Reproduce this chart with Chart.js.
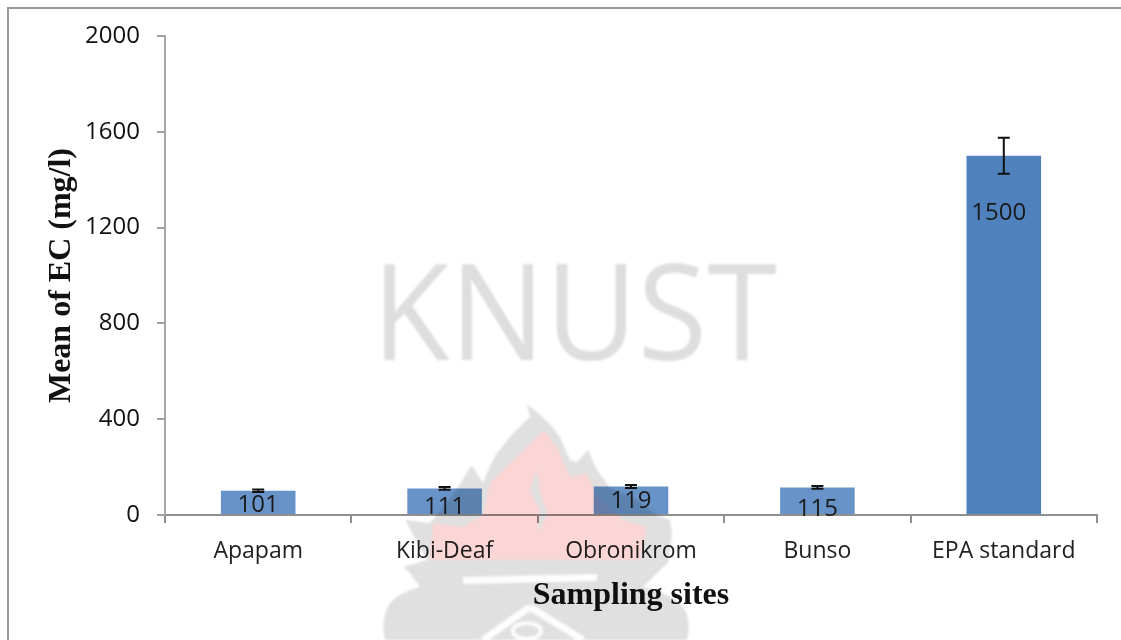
<!DOCTYPE html>
<html>
<head>
<meta charset="utf-8">
<script src="https://cdn.jsdelivr.net/npm/chart.js@4"></script>
<style>
html,body{margin:0;padding:0;background:#fff;width:1121px;height:640px;overflow:hidden}
#wrap{position:relative;width:1121px;height:640px}
#frame{position:absolute;left:7px;top:7px;right:-4px;bottom:-4px;border-left:2px solid #9a9a9a;border-top:2px solid #9a9a9a}
canvas{position:absolute;left:0;top:0}
#mark{position:absolute;left:0;top:0;mix-blend-mode:multiply;pointer-events:none;filter:blur(.8px)}
</style>
</head>
<body>
<div id="wrap">
<div id="frame"></div>
<canvas id="c" width="1121" height="640"></canvas>
<svg id="mark" width="1121" height="640" viewBox="0 0 1121 640">
<text x="372" y="360" font-family="Open Sans" font-weight="400" font-size="133" fill="#dedede" textLength="405" lengthAdjust="spacingAndGlyphs">KNUST</text>
<path fill="#e0e0e0" d="M527 405Q545 416 560 437L570 460L577 462L588 450L597 470L610 488L633 497L657 515L670 520L672 533L668 563L660 570L643 587Q675 595 683 607Q692 620 687 640L385 640Q380 620 390 603Q400 592 420 587L410 573L403 567L427 560L405 520L430 523Q455 495 470 467L473 467L483 483Q490 465 497 453Q515 430 530 417Z"/>
<path fill="#fbd6d6" d="M545 430L560 453L570 477L587 473L597 497L623 520L647 527L640 560L430 560L433 523L463 527L483 515L490 483L510 463L537 437Z"/>
<path fill="#e0e0e0" d="M537 470L530 490L540 510L538 533L547 513L540 493Z"/>
<path fill="#fdfdfd" d="M463 577L597 574L597 581L463 584Z"/>
<path fill="none" stroke="#fdfdfd" stroke-width="7" d="M530 607L583 640M530 607L483 640"/>
<ellipse cx="527" cy="631" rx="14" ry="8" fill="none" stroke="#fdfdfd" stroke-width="4"/>
</svg>
</div>
<script>
const categories = ["Apapam", "Kibi-Deaf", "Obronikrom", "Bunso", "EPA standard"];
const meanEC = [101, 111, 119, 115, 1500];
const errorAmount = [5, 5.5, 6, 5.7, 75];
const yTicks = [0, 400, 800, 1200, 1600, 2000];
const barColors = ["#6893c8", "#6893c8", "#6893c8", "#6893c8", "#4f81bd"];
const labelOffsetY = [14, 19, 15, 22, 57];
const labelOffsetX = [0, 0, 0, 0, -5];

const labelFont = '24px "Open Sans"';
const tickColor = "#8f8f8f";

const errorBars = {
  id: "errorBars",
  afterDatasetsDraw(chart) {
    const y = chart.scales.y, ctx = chart.ctx;
    const meta = chart.getDatasetMeta(0);
    ctx.save();
    ctx.strokeStyle = "#111";
    ctx.lineWidth = 2;
    meta.data.forEach((bar, i) => {
      const top = y.getPixelForValue(meanEC[i] + errorAmount[i]);
      const bot = y.getPixelForValue(meanEC[i] - errorAmount[i]);
      ctx.beginPath();
      ctx.moveTo(bar.x, top); ctx.lineTo(bar.x, bot);
      ctx.moveTo(bar.x - 6, top); ctx.lineTo(bar.x + 6, top);
      ctx.moveTo(bar.x - 6, bot); ctx.lineTo(bar.x + 6, bot);
      ctx.stroke();
    });
    ctx.fillStyle = "#1a1a1a";
    ctx.font = labelFont;
    ctx.textAlign = "center";
    ctx.textBaseline = "middle";
    meta.data.forEach((bar, i) => {
      ctx.fillText(String(meanEC[i]), bar.x + labelOffsetX[i], bar.y + labelOffsetY[i]);
    });
    ctx.restore();
  }
};

new Chart(document.getElementById("c"), {
  type: "bar",
  data: {
    labels: categories,
    datasets: [{ data: meanEC, backgroundColor: barColors, barPercentage: 0.4, categoryPercentage: 1 }]
  },
  plugins: [errorBars],
  options: {
    responsive: false,
    animation: false,
    layout: { padding: { top: 36, right: 24, left: 0, bottom: 0 } },
    plugins: { legend: { display: false }, tooltip: { enabled: false } },
    scales: {
      x: {
        afterFit(s) { s.height = 125; },
        border: { color: tickColor, width: 2 },
        grid: { drawOnChartArea: false, tickLength: 8, color: tickColor, lineWidth: 2 },
        ticks: { color: "#222", font: { family: "Open Sans", size: 23 }, padding: 15, maxRotation: 0 },
        title: {
          display: true, text: "Sampling sites", color: "#111",
          font: { family: "Liberation Serif", size: 32, weight: "bold" },
          padding: { top: 0, bottom: 25 }
        }
      },
      y: {
        min: 0, max: 2000,
        afterBuildTicks(s) { s.ticks = yTicks.map(v => ({ value: v })); },
        afterFit(s) { s.width = 165; },
        border: { color: "#a6a6a6", width: 2 },
        grid: { drawOnChartArea: false, tickLength: 8, color: "#a0a0a0", lineWidth: 2 },
        ticks: { color: "#111", font: { family: "Open Sans", size: 24 }, padding: 17, callback: v => String(v) },
        title: {
          display: true, text: "Mean of EC (mg/l)", color: "#111",
          font: { family: "Liberation Serif", size: 32, weight: "bold" },
          padding: { top: 43, bottom: 0 }
        }
      }
    }
  }
});
</script>
</body>
</html>
